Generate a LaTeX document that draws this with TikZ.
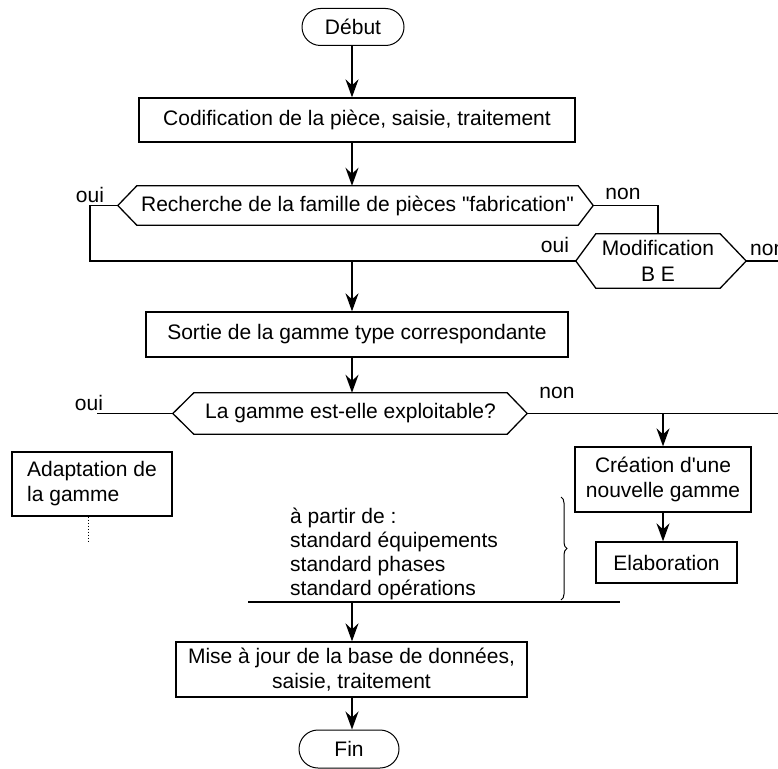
\documentclass[tikz,border=0pt]{standalone}
\usepackage{fontspec}
\setmainfont{Liberation Sans}[Ligatures=TeXOff]
\usetikzlibrary{calc,arrows.meta,decorations.pathreplacing}
\begin{document}
\begin{tikzpicture}[x=1pt,y=-1pt,
  every node/.style={font=\fontsize{21}{25}\selectfont, inner sep=0pt},
  ln/.style={line width=1.3pt},
  arr/.style={line width=1.6pt, -{Stealth[length=18pt,width=13pt,inset=6pt]}},
  box/.style={draw, line width=1.3pt},
  term/.style={draw, line width=1pt}]
\useasboundingbox (0,0) rectangle (778,768);
\clip (0,0) rectangle (778,768);
\fill[white] (0,0) rectangle (778,768);
\coordinate (spine) at (352,0);
\coordinate (redge) at (780,0);
% terminals and boxes
\node[term, minimum width=102pt, minimum height=37pt, rounded corners=18.5pt] (debut) at (353,27) {Début};
\node[box, minimum width=436pt, minimum height=44pt] (codif) at (357,120) {Codification de la pièce, saisie, traitement};
\node[minimum width=441pt, minimum height=39pt] (d1) at (357.5,205.5) {Recherche de la famille de pièces "fabrication"};
\coordinate (d1L) at ($(d1.west)+(-19,0)$);
\coordinate (d1R) at ($(d1.east)+(15,0)$);
\draw[ln] (d1.north west) -- (d1.north east) -- (d1R) -- (d1.south east) -- (d1.south west) -- (d1L) -- cycle;
\node[minimum width=124pt, minimum height=54pt, align=center] (modif) at (658,261) {Modification\\[1pt]B E};
\coordinate (modL) at ($(modif.west)+(-20,0)$);
\coordinate (modR) at ($(modif.east)+(26,0)$);
\draw[ln] (modif.north west) -- (modif.north east) -- (modR) -- (modif.south east) -- (modif.south west) -- (modL) -- cycle;
\node[box, minimum width=422pt, minimum height=45pt] (sortie) at (357,334.5) {Sortie de la gamme type correspondante};
\node[minimum width=313pt, minimum height=41pt] (d2) at (350.5,413.5) {La gamme est-elle exploitable?};
\coordinate (d2L) at ($(d2.west)+(-21,0)$);
\coordinate (d2R) at ($(d2.east)+(20,0)$);
\draw[ln] (d2.north west) -- (d2.north east) -- (d2R) -- (d2.south east) -- (d2.south west) -- (d2L) -- cycle;
\node[box, minimum width=160pt, minimum height=64pt, align=left] (adapt) at (92,484) {Adaptation de\\la gamme};
\node[box, minimum width=176pt, minimum height=65pt, align=center] (creation) at (663,479.5) {Création d'une\\nouvelle gamme};
\node[box, minimum width=141pt, minimum height=41pt, text depth=-4pt] (elab) at (666.5,562.5) {Elaboration};
\node[box, minimum width=351pt, minimum height=55pt, align=center] (mise) at (351.5,669.5) {Mise à jour de la base de données,\\saisie, traitement};
\node[term, minimum width=100pt, minimum height=38pt, rounded corners=19pt] (fin) at (349,749) {Fin};
% text block
\node[anchor=base west] (ap1) at (290,523) {à partir de :};
\node[anchor=base west] (ap2) at (290,547) {standard équipements};
\node[anchor=base west] (ap3) at (290,571) {standard phases};
\node[anchor=base west] (ap4) at (290,595) {standard opérations};
\draw[line width=1pt, decorate, decoration={brace, amplitude=6pt}] (561,497) -- (561,600);
% labels
\node[anchor=base] (oui1) at (90,202) {oui};
\node[anchor=base] (non1) at (623,199) {non};
\node[anchor=base] (oui2) at (555,252) {oui};
\node[anchor=base west] (non2) at (750,255) {non};
\node[anchor=base] (oui3) at (89,410) {oui};
\node[anchor=base] (non3) at (557,398) {non};
% connectors
\coordinate (lc) at (90,261);
\coordinate (o3end) at (97,413.5);
\coordinate (m2L) at (248,602);
\coordinate (m2R) at (620,602);
\draw[arr] (spine |- debut.south) -- (spine |- codif.north);
\draw[arr] (spine |- codif.south) -- (spine |- d1.north);
\draw[ln] (d1L) -| (lc) -- (modL);
\draw[ln] (d1R) -| (modif.north);
\draw[ln] (modR) -- (modR -| redge);
\draw[arr] (spine |- lc) -- (spine |- sortie.north);
\draw[arr] (spine |- sortie.south) -- (spine |- d2.north);
\draw[ln] (d2L) -- (o3end);
\draw[ln] (d2R) -- (d2R -| redge);
\draw[arr] (creation.north |- d2R) -- (creation.north);
\draw[arr] (creation.south) -- (creation.south |- elab.north);
\draw[line width=1pt, dotted] ($(adapt.south)+(-4,0)$) -- ++(0,26);
\draw[ln] (m2L) -- (m2R);
\draw[arr] (spine |- m2L) -- (spine |- mise.north);
\draw[arr] (spine |- mise.south) -- (spine |- fin.north);
\end{tikzpicture}
\end{document}
